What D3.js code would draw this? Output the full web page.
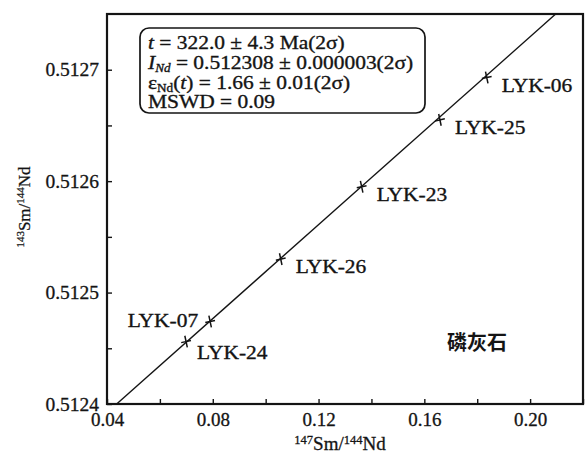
<!DOCTYPE html>
<html><head><meta charset="utf-8">
<script src="https://cdn.jsdelivr.net/npm/d3@7"></script>
<style>
body{margin:0;background:#fff;}
svg text{font-family:"Liberation Serif","Tinos","Times New Roman",serif;}
svg text.cjk{font-family:"Noto Sans CJK SC",sans-serif;}
</style></head>
<body>
<svg id="c" width="587" height="457"></svg>
<script>
// ---- data ----
const sampleNames = ["LYK-06","LYK-25","LYK-23","LYK-26","LYK-07","LYK-24"];
const smNd147 = [0.1836, 0.1659, 0.1363, 0.1057, 0.0790, 0.0699];
const ndNd143 = [0.512693, 0.512655, 0.512595, 0.512530, 0.512474, 0.512456];
const labelSide = ["right","right","right","right","left","right"];
const xTicks = [0.04,0.06,0.08,0.10,0.12,0.14,0.16,0.18,0.20,0.22];
const xLabelTicks = [0.04,0.08,0.12,0.16,0.20];
const yTicks = [0.5124,0.51245,0.5125,0.51255,0.5126,0.51265,0.5127];
const yLabelTicks = [0.5124,0.5125,0.5126,0.5127];
const isoIntercept = 0.512308;
const isoSlope = 0.0021081;
const mineralLabel = "磷灰石";

const svg = d3.select("#c");
const x = d3.scaleLinear().domain([0.04,0.22]).range([107,583]);
const y = d3.scaleLinear().domain([0.5124,0.51275]).range([404,14]);
const ink = "#141414";
const FS = 19.5, SX = 1.1;

function stretched(parent, px, py, anchor){
  return parent.append("text")
    .attr("transform",`translate(${px},${py}) scale(${SX},1)`)
    .attr("text-anchor",anchor||"start").attr("font-size",FS).attr("fill",ink)
    .attr("stroke",ink).attr("stroke-width",0.35);
}

// frame
svg.append("rect").attr("x",x(0.04)).attr("y",y(0.51275))
  .attr("width",x(0.22)-x(0.04)).attr("height",y(0.5124)-y(0.51275))
  .attr("fill","none").attr("stroke",ink).attr("stroke-width",2.2);

// x axis
const xa = svg.append("g").attr("transform",`translate(0,${y(0.5124)})`)
  .call(d3.axisBottom(x).tickValues(xTicks).tickSizeInner(-5).tickSizeOuter(0).tickPadding(9)
    .tickFormat(d => xLabelTicks.some(v=>Math.abs(v-d)<1e-9) ? d3.format(".2f")(d) : ""));
xa.attr("font-family",null);
xa.select(".domain").remove();
xa.selectAll("line").attr("stroke",ink).attr("stroke-width",1.4);
xa.selectAll("text").attr("font-size",19).attr("fill",ink).attr("stroke",ink).attr("stroke-width",0.3);

// y axis
const ya = svg.append("g").attr("transform",`translate(${x(0.04)},0)`)
  .call(d3.axisLeft(y).tickValues(yTicks).tickSizeInner(-5).tickSizeOuter(0).tickPadding(8)
    .tickFormat(d => yLabelTicks.some(v=>Math.abs(v-d)<1e-9) ? d3.format(".4f")(d) : ""));
ya.attr("font-family",null);
ya.select(".domain").remove();
ya.selectAll("line").attr("stroke",ink).attr("stroke-width",1.4);
ya.selectAll("text").attr("font-size",19.5).attr("fill",ink).attr("stroke",ink).attr("stroke-width",0.3);

// isochron line clipped to the plot
const xs = (0.5124 - isoIntercept)/isoSlope;
const xe = (0.51275 - isoIntercept)/isoSlope;
svg.append("line")
  .attr("x1",x(xs)).attr("y1",y(isoIntercept+isoSlope*xs))
  .attr("x2",x(xe)).attr("y2",y(isoIntercept+isoSlope*xe))
  .attr("stroke",ink).attr("stroke-width",1.4);

// points
const pts = sampleNames.map((n,i)=>({n,x:smNd147[i],y:ndNd143[i],s:labelSide[i]}));
const g = svg.append("g");
pts.forEach(p=>{
  const px=x(p.x), py=y(p.y);
  g.append("path").attr("d",`M${px-5},${py}H${px+5}M${px},${py-6}V${py+6}`)
    .attr("stroke",ink).attr("stroke-width",1.5).attr("fill","none")
    .attr("transform",`rotate(-12,${px},${py})`);
  let t;
  if(p.s==="left") t = stretched(g, px-12, py+5, "end");
  else if(p.n==="LYK-24") t = stretched(g, px+11, py+17);
  else t = stretched(g, px+15, py+14);
  t.text(p.n);
});

// legend box
svg.append("rect").attr("x",140).attr("y",28).attr("width",285).attr("height",85)
  .attr("rx",9).attr("fill","none").attr("stroke",ink).attr("stroke-width",1.7);
const lg = svg.append("g");
let t1 = stretched(lg,148,49);
t1.append("tspan").attr("font-style","italic").text("t");
t1.append("tspan").text(" = 322.0 ± 4.3 Ma(2σ)");
let t2 = stretched(lg,148,69);
t2.append("tspan").attr("font-style","italic").text("I");
t2.append("tspan").attr("font-style","italic").attr("font-size",12).attr("dy",3).text("Nd");
t2.append("tspan").attr("dy",-3).text(" = 0.512308 ± 0.000003(2σ)");
let t3 = stretched(lg,148,89);
t3.append("tspan").text("ε");
t3.append("tspan").attr("font-size",12).attr("dy",3).text("Nd");
t3.append("tspan").attr("dy",-3).text("(");
t3.append("tspan").attr("font-style","italic").text("t");
t3.append("tspan").text(") = 1.66 ± 0.01(2σ)");
stretched(lg,148,108).text("MSWD = 0.09");

// mineral label
svg.append("text").attr("class","cjk").attr("x",477).attr("y",350).attr("text-anchor","middle")
  .attr("font-weight",700).attr("font-size",20)
  .attr("fill",ink).text(mineralLabel);

// axis titles
const xt = svg.append("text").attr("x",340).attr("y",450).attr("text-anchor","middle")
  .attr("font-size",19).attr("fill",ink).attr("stroke",ink).attr("stroke-width",0.3);
xt.append("tspan").attr("font-size",12.5).attr("dy",-6).text("147");
xt.append("tspan").attr("dy",6).text("Sm/");
xt.append("tspan").attr("font-size",12.5).attr("dy",-6).text("144");
xt.append("tspan").attr("dy",6).text("Nd");

const yt = svg.append("text").attr("transform","translate(30,207) rotate(-90)")
  .attr("text-anchor","middle").attr("font-size",17).attr("fill",ink).attr("stroke",ink).attr("stroke-width",0.25);
yt.append("tspan").attr("font-size",11).attr("dy",-6).text("143");
yt.append("tspan").attr("dy",6).text("Sm/");
yt.append("tspan").attr("font-size",11).attr("dy",-6).text("144");
yt.append("tspan").attr("dy",6).text("Nd");
</script>
</body></html>
